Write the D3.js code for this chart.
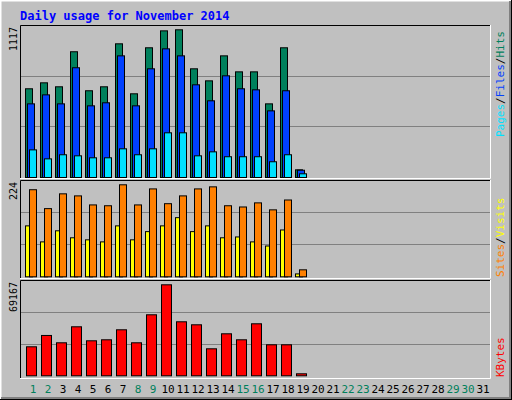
<!DOCTYPE html>
<html><head><meta charset="utf-8">
<script src="https://cdn.jsdelivr.net/npm/d3@7"></script>
<style>body{margin:0;background:#fff}text{font-family:"DejaVu Sans Mono",monospace}</style>
</head><body>
<script>
// Data
var days = d3.range(1, 32);
var weekendDays = [1, 2, 8, 9, 15, 16, 22, 23, 29, 30];
var hits  = [671,716,686,951,656,686,1011,633,981,1109,1117,822,731,920,799,799,557,981,58];
var files = [557,625,557,830,542,565,920,542,822,973,920,701,580,769,671,663,504,656,55];
var pages = [209,141,172,164,149,149,217,172,217,338,338,164,194,157,157,157,119,172,28];
var sites  = [212,166,202,197,175,173,224,175,214,178,197,214,219,173,170,180,163,187,17];
var visits = [124,85,112,95,90,85,124,90,110,124,144,110,124,95,97,85,75,114,7];
var kbytes = [22046,30660,25086,37250,26607,27367,34969,25086,46372,69167,41051,38770,20525,31928,27367,39530,23566,23566,1520];

var W = 512, H = 400;
var svg = d3.select("body").append("svg").attr("width", W).attr("height", H);

// background with bevel
svg.append("rect").attr("width", W).attr("height", H).attr("fill", "#c0c0c0");
svg.append("path").attr("d", "M0.5,399 V0.5 H511").attr("stroke", "#fff").attr("stroke-width", 2).attr("fill", "none");
svg.append("path").attr("d", "M510,1 V510 M1,398 H511").attr("stroke", "#808080").attr("stroke-width", 2);
svg.append("path").attr("d", "M511.5,0 V400 M0,399.5 H512").attr("stroke", "#000").attr("stroke-width", 1);

svg.append("text").attr("x", 20).attr("y", 20).attr("fill", "#0000ff")
  .style("font-size", "12px").style("font-weight", "bold")
  .text("Daily usage for November 2014");

var x = d3.scaleLinear().domain([1, 31]).range([25, 475]);

// panels: top, bottom(baseline), max pixel
var panels = [
  {top: 25, bottom: 179, base: 177, maxY: 29.3, max: 1117},
  {top: 180, bottom: 279, base: 276.3, maxY: 184.3, max: 224},
  {top: 280, bottom: 379, base: 375.3, maxY: 284.3, max: 69167}
];
panels.forEach(function(p) {
  p.y = d3.scaleLinear().domain([0, p.max]).range([p.base, p.maxY]);
  var h = p.base - p.top;
  [1/3, 2/3].forEach(function(f) {
    var gy = Math.round(p.base - h * f) + 0.5;
    svg.append("line").attr("x1", 21).attr("x2", 490).attr("y1", gy).attr("y2", gy)
      .attr("stroke", "#808080");
  });
  svg.append("path").attr("d", `M20.5,${p.bottom} V${p.top + 0.5} H491`).attr("stroke", "#000").attr("fill", "none");
  svg.append("path").attr("d", `M20,${p.bottom - 0.5} H490.5 V${p.top}`).attr("stroke", "#fff").attr("fill", "none");
  svg.append("text").attr("transform", `translate(17,${p.top + 2}) rotate(-90)`)
    .attr("text-anchor", "end").style("font-size", "10px").attr("fill", "#000")
    .text(p.max);
});

function bars(data, panel, dx, w, color) {
  svg.append("g").selectAll("rect").data(data).enter().append("rect")
    .attr("x", (d, i) => x(i + 1) + dx + 0.5)
    .attr("y", d => panel.y(d) + 0.5)
    .attr("width", w)
    .attr("height", d => panel.base - panel.y(d))
    .attr("fill", color).attr("stroke", "#000");
}
bars(hits, panels[0], 0, 7, "#00805c");
bars(files, panels[0], 2, 7, "#0040ff");
bars(pages, panels[0], 4, 7, "#00e0ff");
bars(visits, panels[1], 0, 7, "#ffff00");
bars(sites, panels[1], 4, 7, "#ff8000");
bars(kbytes, panels[2], 1, 10, "#ff0000");

// day labels
svg.append("g").selectAll("text").data(days).enter().append("text")
  .attr("x", d => x(d) + 8).attr("y", 393).attr("text-anchor", "middle")
  .style("font-size", "11px")
  .attr("fill", d => weekendDays.indexOf(d) >= 0 ? "#00805c" : "#000")
  .text(d => d);

// right side legends
function legend(yEnd, parts) {
  var t = svg.append("text").attr("transform", `translate(504,${yEnd}) rotate(-90)`)
    .style("font-size", "11px");
  parts.forEach(function(p) { t.append("tspan").attr("fill", p[1]).text(p[0]); });
}
legend(137, [["Pages", "#00e0ff"], ["/", "#000"], ["Files", "#0040ff"], ["/", "#000"], ["Hits", "#00805c"]]);
legend(277, [["Sites", "#ff8000"], ["/", "#000"], ["Visits", "#ffff00"]]);
legend(377, [["KBytes", "#ff0000"]]);
</script>
</body></html>
